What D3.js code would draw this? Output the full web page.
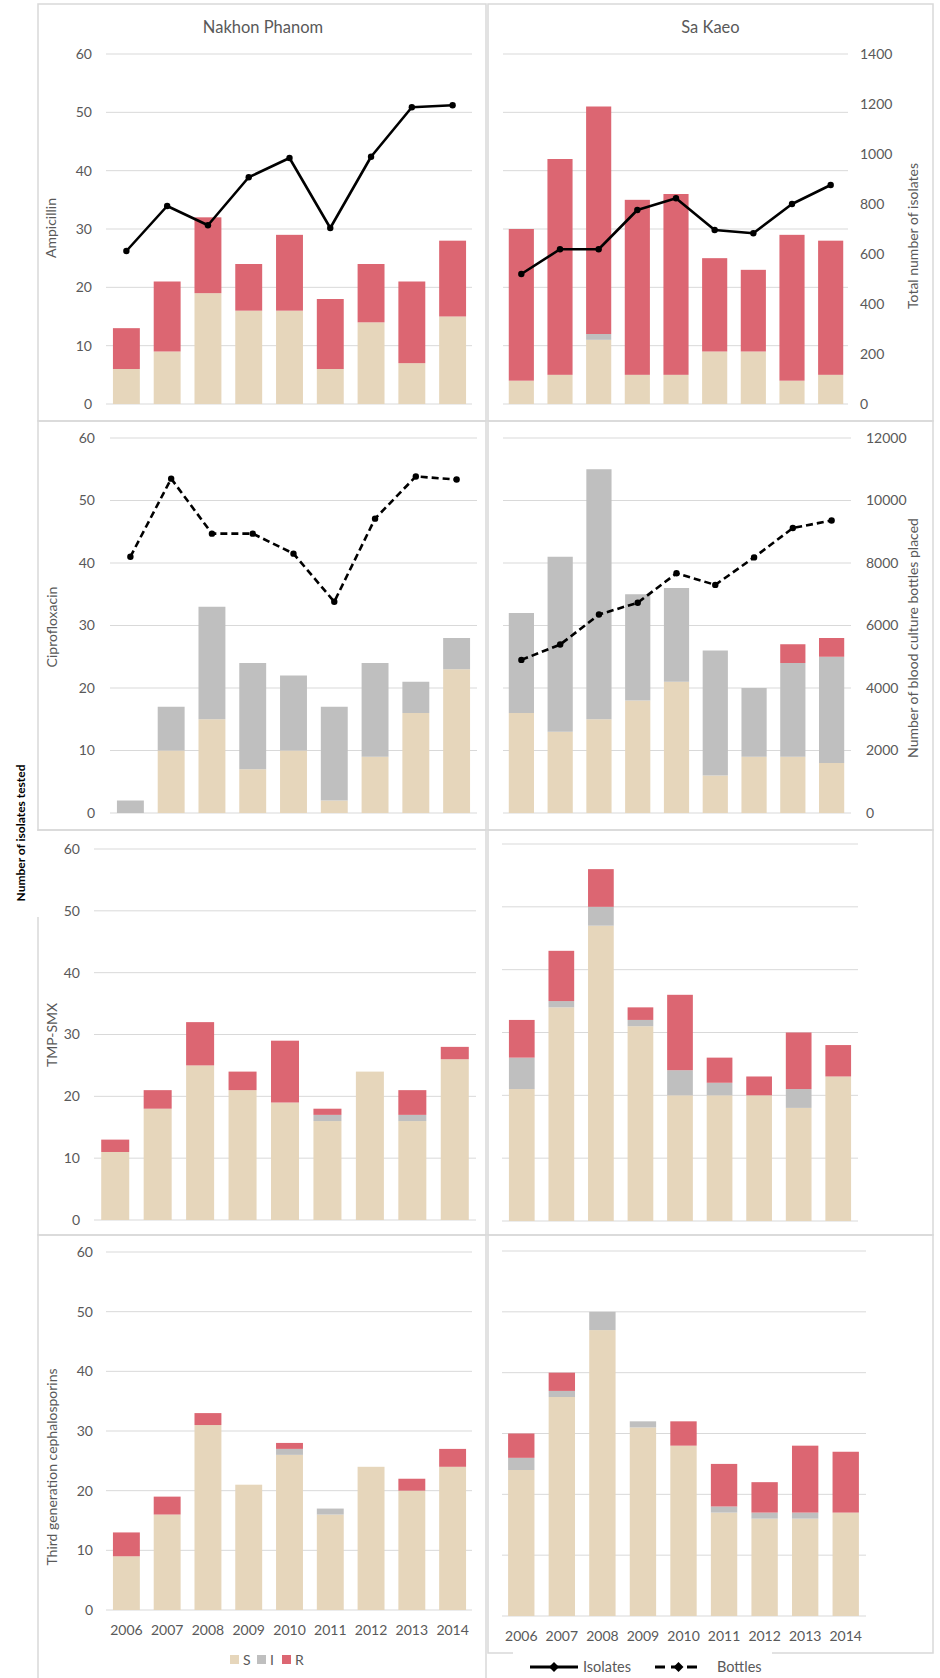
<!DOCTYPE html>
<html>
<head>
<meta charset="utf-8">
<script src="https://cdn.jsdelivr.net/npm/d3@7"></script>
<style>
body { margin: 0; background: #fff; }
svg { display: block; font-family: Lato, "Open Sans", sans-serif; }
</style>
</head>
<body>
<svg id="chart" width="940" height="1678"></svg>
<script>
'use strict';

// ---- data ----
const years = ['2006', '2007', '2008', '2009', '2010', '2011', '2012', '2013', '2014'];
const keys = ['S', 'I', 'R'];

// Ampicillin
const ampNakhonS = [6, 9, 19, 16, 16, 6, 14, 7, 15];
const ampNakhonI = [0, 0, 0, 0, 0, 0, 0, 0, 0];
const ampNakhonR = [7, 12, 13, 8, 13, 12, 10, 14, 13];
const ampSakaeoS = [4, 5, 11, 5, 5, 9, 9, 4, 5];
const ampSakaeoI = [0, 0, 1, 0, 0, 0, 0, 0, 0];
const ampSakaeoR = [26, 37, 39, 30, 31, 16, 14, 25, 23];

// Ciprofloxacin
const cipNakhonS = [0, 10, 15, 7, 10, 2, 9, 16, 23];
const cipNakhonI = [2, 7, 18, 17, 12, 15, 15, 5, 5];
const cipNakhonR = [0, 0, 0, 0, 0, 0, 0, 0, 0];
const cipSakaeoS = [16, 13, 15, 18, 21, 6, 9, 9, 8];
const cipSakaeoI = [16, 28, 40, 17, 15, 20, 11, 15, 17];
const cipSakaeoR = [0, 0, 0, 0, 0, 0, 0, 3, 3];

// TMP-SMX
const tmpNakhonS = [11, 18, 25, 21, 19, 16, 24, 16, 26];
const tmpNakhonI = [0, 0, 0, 0, 0, 1, 0, 1, 0];
const tmpNakhonR = [2, 3, 7, 3, 10, 1, 0, 4, 2];
const tmpSakaeoS = [21, 34, 47, 31, 20, 20, 20, 18, 23];
const tmpSakaeoI = [5, 1, 3, 1, 4, 2, 0, 3, 0];
const tmpSakaeoR = [6, 8, 6, 2, 12, 4, 3, 9, 5];

// Third generation cephalosporins
const cephNakhonS = [9, 16, 31, 21, 26, 16, 24, 20, 24];
const cephNakhonI = [0, 0, 0, 0, 1, 1, 0, 0, 0];
const cephNakhonR = [4, 3, 2, 0, 1, 0, 0, 2, 3];
const cephSakaeoS = [24, 36, 47, 31, 28, 17, 16, 16, 17];
const cephSakaeoI = [2, 1, 3, 1, 0, 1, 1, 1, 0];
const cephSakaeoR = [4, 3, 0, 0, 4, 7, 5, 11, 10];

// lines
const isolatesNakhon = [612, 792, 715, 907, 984, 704, 989, 1187, 1195];
const isolatesSakaeo = [520, 619, 619, 776, 823, 696, 683, 800, 876];
const bottlesNakhon = [8200, 10700, 8940, 8940, 8300, 6760, 9420, 10770, 10670];
const bottlesSakaeo = [4900, 5390, 6350, 6730, 7670, 7300, 8180, 9120, 9360];

const leftTicks = [0, 10, 20, 30, 40, 50, 60];
const isolateTicks = [0, 200, 400, 600, 800, 1000, 1200, 1400];
const bottleTicks = [0, 2000, 4000, 6000, 8000, 10000, 12000];

// ---- style ----
const colors = { S: '#e6d6bb', I: '#bfbfbf', R: '#dc6672' };
const textGrey = '#595959';
const gridGrey = '#d9d9d9';
const tickSize = 14;
const labelSize = 14;

const svg = d3.select('#chart');

const panels = [
    { box: [38, 4, 486, 421], x: [106, 473], grid: [106, 472], y: [404, 54], pad: 0.34,
      S: ampNakhonS, I: ampNakhonI, R: ampNakhonR, line: isolatesNakhon, lineMax: 1400, dashed: false,
      leftAxis: 92, label: 'Ampicillin', labelPos: [56, 228], title: 'Nakhon Phanom' },
    { box: [488, 4, 933, 421], x: [502, 850], grid: [503, 848], y: [404, 54], pad: 0.35,
      S: ampSakaeoS, I: ampSakaeoI, R: ampSakaeoR, line: isolatesSakaeo, lineMax: 1400, dashed: false,
      rightAxis: 860, rightTicks: isolateTicks, rightLabel: 'Total number of isolates', rightLabelPos: [918, 236], title: 'Sa Kaeo' },
    { box: [38, 421, 486, 830], x: [110, 477], grid: [110, 477], y: [813, 438], pad: 0.34,
      S: cipNakhonS, I: cipNakhonI, R: cipNakhonR, line: bottlesNakhon, lineMax: 12000, dashed: true,
      leftAxis: 95, label: 'Ciprofloxacin', labelPos: [57, 627] },
    { box: [488, 421, 933, 830], x: [502, 851], grid: [503, 851], y: [813, 438], pad: 0.35,
      S: cipSakaeoS, I: cipSakaeoI, R: cipSakaeoR, line: bottlesSakaeo, lineMax: 12000, dashed: true,
      rightAxis: 866, rightTicks: bottleTicks, rightLabel: 'Number of blood culture bottles placed', rightLabelPos: [918, 638] },
    { box: [38, 830, 486, 1235], x: [94, 476], grid: [94, 476], y: [1220, 849], pad: 0.34,
      S: tmpNakhonS, I: tmpNakhonI, R: tmpNakhonR,
      leftAxis: 80, label: 'TMP-SMX', labelPos: [57, 1035] },
    { box: [488, 830, 933, 1235], x: [502, 858], grid: [502, 858], y: [1221, 844], pad: 0.35,
      S: tmpSakaeoS, I: tmpSakaeoI, R: tmpSakaeoR },
    { box: [38, 1235, 486, 1690], x: [106, 473], grid: [106, 472], y: [1610, 1252], pad: 0.34,
      S: cephNakhonS, I: cephNakhonI, R: cephNakhonR,
      leftAxis: 93, label: 'Third generation cephalosporins', labelPos: [57, 1467], years: true },
    { box: [488, 1235, 933, 1653], x: [501, 866], grid: [502, 866], y: [1616, 1251], pad: 0.35,
      S: cephSakaeoS, I: cephSakaeoI, R: cephSakaeoR, years: true }
];

function styleAxis(sel, size)
{
    sel.select('.domain').remove();
    sel.selectAll('text')
        .attr('fill', textGrey)
        .attr('font-size', size)
        .attr('font-family', 'Lato, "Open Sans", sans-serif');
}

function drawPanel(p)
{
    const g = svg.append('g');

    g.append('rect')
        .attr('x', p.box[0])
        .attr('y', p.box[1])
        .attr('width', p.box[2] - p.box[0])
        .attr('height', p.box[3] - p.box[1])
        .attr('fill', 'none')
        .attr('stroke', gridGrey)
        .attr('stroke-width', 1.5);

    const x = d3.scaleBand().domain(years).range(p.x).paddingInner(p.pad).paddingOuter(p.pad / 2);
    const y = d3.scaleLinear().domain([0, 60]).range(p.y);

    // gridlines
    g.selectAll('line.grid').data(leftTicks).enter().append('line')
        .attr('x1', p.grid[0])
        .attr('x2', p.grid[1])
        .attr('y1', (d) => y(d))
        .attr('y2', (d) => y(d))
        .attr('stroke', gridGrey)
        .attr('stroke-width', 1);

    if (p.leftAxis)
    {
        g.append('g')
            .attr('transform', 'translate(' + p.leftAxis + ',0)')
            .call(d3.axisLeft(y).tickValues(leftTicks).tickSize(0).tickPadding(0))
            .call(styleAxis, tickSize);
    }

    // stacked bars
    const rows = years.map((yr, i) => ({ year: yr, S: p.S[i], I: p.I[i], R: p.R[i] }));
    const series = d3.stack().keys(keys)(rows);
    g.selectAll('g.series').data(series).enter().append('g')
        .attr('fill', (d) => colors[d.key])
        .selectAll('rect').data((d) => d).enter().append('rect')
        .attr('x', (d) => x(d.data.year))
        .attr('y', (d) => y(d[1]))
        .attr('width', x.bandwidth())
        .attr('height', (d) => y(d[0]) - y(d[1]));

    // line on the secondary scale
    if (p.line)
    {
        const yR = d3.scaleLinear().domain([0, p.lineMax]).range(p.y);
        const line = d3.line()
            .x((d, i) => x(years[i]) + x.bandwidth() / 2)
            .y((d) => yR(d));
        g.append('path')
            .datum(p.line)
            .attr('d', line)
            .attr('fill', 'none')
            .attr('stroke', '#000')
            .attr('stroke-width', 2.6)
            .attr('stroke-linejoin', 'round')
            .attr('stroke-dasharray', p.dashed ? '7,4' : null);
        g.selectAll('circle.pt').data(p.line).enter().append('circle')
            .attr('cx', (d, i) => x(years[i]) + x.bandwidth() / 2)
            .attr('cy', (d) => yR(d))
            .attr('r', 3.2)
            .attr('fill', '#000');

        if (p.rightAxis)
        {
            g.append('g')
                .attr('transform', 'translate(' + p.rightAxis + ',0)')
                .call(d3.axisRight(yR).tickValues(p.rightTicks).tickSize(0).tickPadding(0).tickFormat(d3.format('d')))
                .call(styleAxis, tickSize);
        }
    }

    if (p.years)
    {
        g.append('g')
            .attr('transform', 'translate(0,' + p.y[0] + ')')
            .call(d3.axisBottom(x).tickSize(0).tickPadding(15))
            .call(styleAxis, tickSize);
    }

    if (p.label)
    {
        g.append('text')
            .attr('transform', 'translate(' + p.labelPos[0] + ',' + p.labelPos[1] + ') rotate(-90)')
            .attr('text-anchor', 'middle')
            .attr('font-size', labelSize)
            .attr('fill', textGrey)
            .text(p.label);
    }

    if (p.rightLabel)
    {
        g.append('text')
            .attr('transform', 'translate(' + p.rightLabelPos[0] + ',' + p.rightLabelPos[1] + ') rotate(-90)')
            .attr('text-anchor', 'middle')
            .attr('font-size', labelSize)
            .attr('fill', textGrey)
            .text(p.rightLabel);
    }

    if (p.title)
    {
        g.append('text')
            .attr('x', (p.box[0] + p.box[2]) / 2 + (p.leftAxis ? 1 : 0))
            .attr('y', 33)
            .attr('text-anchor', 'middle')
            .attr('font-size', 16.5)
            .attr('fill', textGrey)
            .text(p.title);
    }
}

panels.forEach(drawPanel);

// shared y title, sitting on a white patch over the panel border
svg.append('rect')
    .attr('x', 10).attr('y', 831)
    .attr('width', 31).attr('height', 86)
    .attr('fill', '#fff');
svg.append('text')
    .attr('transform', 'translate(25,833) rotate(-90)')
    .attr('text-anchor', 'middle')
    .attr('font-size', 12)
    .attr('font-weight', 'bold')
    .attr('fill', '#000')
    .text('Number of isolates tested');

// legend S / I / R
const legendItems = [
    { key: 'S', x: 230 },
    { key: 'I', x: 257 },
    { key: 'R', x: 282 }
];
const leg = svg.append('g');
leg.selectAll('rect').data(legendItems).enter().append('rect')
    .attr('x', (d) => d.x)
    .attr('y', 1655)
    .attr('width', 9)
    .attr('height', 9)
    .attr('fill', (d) => colors[d.key]);
leg.selectAll('text').data(legendItems).enter().append('text')
    .attr('x', (d) => d.x + 13)
    .attr('y', 1665)
    .attr('font-size', 14)
    .attr('fill', textGrey)
    .text((d) => d.key);

// legend lines
svg.append('rect')
    .attr('x', 513).attr('y', 1645)
    .attr('width', 259).attr('height', 34)
    .attr('fill', '#fff');
const lineLegend = [
    { name: 'Isolates', x1: 530, x2: 578, tx: 583, dashed: false },
    { name: 'Bottles', x1: 655, x2: 702, tx: 717, dashed: true }
];
const ll = svg.append('g');
ll.selectAll('line').data(lineLegend).enter().append('line')
    .attr('x1', (d) => d.x1)
    .attr('x2', (d) => d.x2)
    .attr('y1', 1667)
    .attr('y2', 1667)
    .attr('stroke', '#000')
    .attr('stroke-width', 3)
    .attr('stroke-dasharray', (d) => d.dashed ? '10,6' : null);
ll.selectAll('path').data(lineLegend).enter().append('path')
    .attr('d', (d) => {
        const cx = (d.x1 + d.x2) / 2;
        return 'M' + cx + ',1662 L' + (cx + 5) + ',1667 L' + cx + ',1672 L' + (cx - 5) + ',1667 Z';
    })
    .attr('fill', '#000');
ll.selectAll('text').data(lineLegend).enter().append('text')
    .attr('x', (d) => d.tx)
    .attr('y', 1672)
    .attr('font-size', 14.5)
    .attr('fill', textGrey)
    .text((d) => d.name);
</script>
</body>
</html>
